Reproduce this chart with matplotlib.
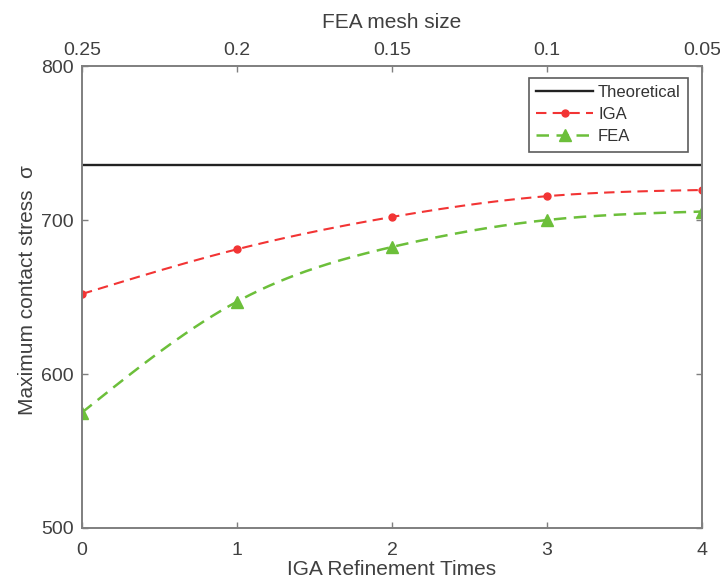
import numpy as np
import matplotlib
matplotlib.use("Agg")
import matplotlib.pyplot as plt

plt.rcParams['font.family'] = ['Liberation Sans', 'DejaVu Sans']

refinement = [0, 1, 2, 3, 4]
mesh_size_ticks = [0.25, 0.2, 0.15, 0.1, 0.05]
theoretical = 736
iga = [652, 681, 702, 715.5, 719.5]
fea = [575, 647, 682.5, 700, 705.5]


def natural_spline(x, y, n=200):
    x = np.asarray(x, float)
    y = np.asarray(y, float)
    m = len(x)
    h = np.diff(x)
    A = np.zeros((m, m))
    b = np.zeros(m)
    A[0, 0] = 1
    A[-1, -1] = 1
    for i in range(1, m - 1):
        A[i, i - 1] = h[i - 1]
        A[i, i] = 2 * (h[i - 1] + h[i])
        A[i, i + 1] = h[i]
        b[i] = 6 * ((y[i + 1] - y[i]) / h[i] - (y[i] - y[i - 1]) / h[i - 1])
    M = np.linalg.solve(A, b)
    xs = np.linspace(x[0], x[-1], n)
    ys = np.empty_like(xs)
    for k, t in enumerate(xs):
        i = min(np.searchsorted(x, t, side='right') - 1, m - 2)
        a = x[i + 1] - t
        c = t - x[i]
        ys[k] = (M[i] * a ** 3 / (6 * h[i]) + M[i + 1] * c ** 3 / (6 * h[i])
                 + (y[i] / h[i] - M[i] * h[i] / 6) * a
                 + (y[i + 1] / h[i] - M[i + 1] * h[i] / 6) * c)
    return xs, ys


fig = plt.figure(figsize=(7.2, 5.84), dpi=100)
ax = fig.add_axes([0.1139, 0.0959, 0.861, 0.791])

axis_col = '#7f7f7f'
text_col = '#404040'
red = '#f23434'
green = '#6cbf3a'

ax.axhline(theoretical, color='#222222', lw=1.7, label='Theoretical')

xs, ys = natural_spline(refinement, iga)
ax.plot(xs, ys, color=red, lw=1.5, ls=(0, (5, 3)))
ax.plot(refinement, iga, 'o', color=red, ms=5)
xs, ys = natural_spline(refinement, fea)
ax.plot(xs, ys, color=green, lw=1.8, ls=(0, (5, 3)))
ax.plot(refinement, fea, '^', color=green, ms=8)

# legend proxies
ax.plot([], [], color=red, lw=1.5, ls=(0, (5, 3)), marker='o', ms=5, label='IGA')
ax.plot([], [], color=green, lw=1.8, ls=(0, (5, 3)), marker='^', ms=8, label='FEA')

ax.set_xlim(0, 4)
ax.set_ylim(500, 800)
ax.set_xticks(refinement)
ax.set_yticks([500, 600, 700, 800])
ax.set_xlabel('IGA Refinement Times', fontsize=15, color=text_col, labelpad=1)
ax.set_ylabel('Maximum contact stress  σ', fontsize=15, color=text_col)
ax.yaxis.set_label_coords(-0.072, 0.515)
ax.tick_params(axis='x', direction='in', length=4, width=1, colors=axis_col,
               labelcolor=text_col, labelsize=14, pad=10)
ax.tick_params(axis='y', direction='in', length=4, width=1, colors=axis_col,
               labelcolor=text_col, labelsize=14, pad=6, right=True)
for s in ax.spines.values():
    s.set_color(axis_col)
    s.set_linewidth(1.2)

ax2 = ax.twiny()
ax2.set_xlim(0.25, 0.05)
ax2.set_xticks(mesh_size_ticks)
ax2.set_xticklabels([str(v) for v in mesh_size_ticks])
ax2.set_xlabel('FEA mesh size', fontsize=15, color=text_col, labelpad=10)
ax2.tick_params(direction='in', length=4, width=1, colors=axis_col, labelcolor=text_col,
                labelsize=14, pad=5)
for s in ax2.spines.values():
    s.set_color(axis_col)
    s.set_linewidth(1.2)

leg = ax.legend(loc='upper right', bbox_to_anchor=(0.978, 0.975), fontsize=12,
                handlelength=3.4, frameon=True, fancybox=False, borderpad=0.45,
                labelspacing=0.42, handletextpad=0.3, borderaxespad=0.0)
leg.get_frame().set_edgecolor('#333333')
leg.get_frame().set_linewidth(1.2)
for t in leg.get_texts():
    t.set_color('#333333')

fig.savefig('out.png', dpi=100)
